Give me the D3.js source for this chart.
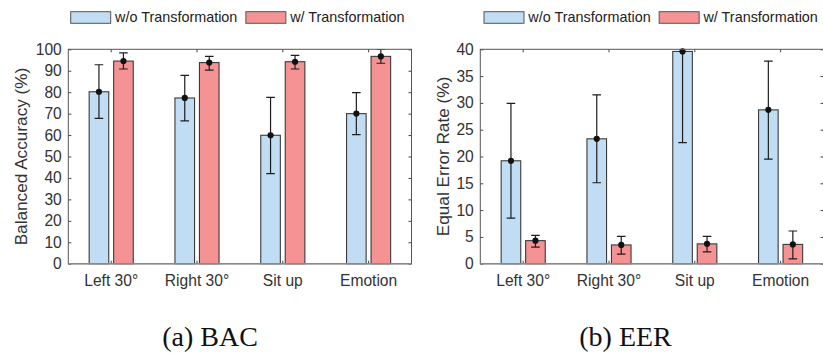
<!DOCTYPE html>
<html>
<head>
<meta charset="utf-8">
<script src="https://cdn.jsdelivr.net/npm/d3@7"></script>
<style>
  html, body { margin: 0; padding: 0; background: #fff; }
  svg { display: block; }
  .tick text { font-family: "Liberation Sans", Arial, sans-serif; fill: #333; }
</style>
</head>
<body>
<svg id="fig" width="823" height="353"></svg>
<script>
// Conditions on the x axis and the two compared settings
const categories = ["Left 30°", "Right 30°", "Sit up", "Emotion"];
const seriesNames = ["w/o Transformation", "w/ Transformation"];

// Balanced accuracy (%): mean, lower and upper whisker ends
const bacWithout     = [80.2, 77.3, 59.9, 70.0];
const bacWithoutLow  = [67.8, 66.6, 42.0, 60.2];
const bacWithoutHigh = [92.8, 87.8, 77.6, 79.8];
const bacWith        = [94.5, 93.8, 94.2, 96.7];
const bacWithLow     = [90.8, 90.3, 90.8, 93.5];
const bacWithHigh    = [98.3, 96.7, 97.2, 99.9];
const bacTicks = [0, 10, 20, 30, 40, 50, 60, 70, 80, 90, 100];

// Equal error rate (%): mean, lower and upper whisker ends
const eerWithout     = [19.2, 23.3, 39.6, 28.7];
const eerWithoutLow  = [8.5, 15.1, 22.6, 19.5];
const eerWithoutHigh = [29.9, 31.5, 56.6, 37.8];
const eerWith        = [4.3, 3.5, 3.7, 3.6];
const eerWithLow     = [3.1, 1.8, 2.2, 0.9];
const eerWithHigh    = [5.3, 5.1, 5.1, 6.1];
const eerTicks = [0, 5, 10, 15, 20, 25, 30, 35, 40];

const colors = ["#c0ddf3", "#f59394"];

const svg = d3.select("#fig");
const plotTop = 49.3, plotBottom = 263.7;

function drawPanel(cfg) {
  const g = svg.append("g");
  const x = d3.scaleBand().domain(categories).range([cfg.x0, cfg.x1]).padding(0);
  const step = x.step();
  const xs = d3.scaleBand().domain(seriesNames)
    .range([-0.2855 * step, 0.2855 * step])
    .paddingInner(0.2).paddingOuter(0.1);
  const y = d3.scaleLinear().domain([cfg.ticks[0], cfg.ticks[cfg.ticks.length - 1]]).range([plotBottom, plotTop]);
  const cx = c => x(c) + step / 2;

  const clipId = "clip-" + cfg.id;
  g.append("clipPath").attr("id", clipId).append("rect")
    .attr("x", cfg.x0).attr("y", plotTop).attr("width", cfg.x1 - cfg.x0).attr("height", plotBottom - plotTop);

  const rows = [];
  cfg.series.forEach((s, si) => {
    categories.forEach((c, ci) => {
      rows.push({ c, si, v: s.values[ci], lo: s.low[ci], hi: s.high[ci] });
    });
  });

  // bars
  g.append("g").selectAll("rect").data(rows).join("rect")
    .attr("x", d => cx(d.c) + xs(seriesNames[d.si]))
    .attr("y", d => y(d.v))
    .attr("width", xs.bandwidth())
    .attr("height", d => plotBottom - y(d.v))
    .attr("fill", d => colors[d.si])
    .attr("stroke", "#3a3a3a")
    .attr("stroke-width", 1.1);

  // error bars
  const eb = g.append("g").attr("clip-path", `url(#${clipId})`)
    .attr("stroke", "#1e1e1e").attr("stroke-width", 1.2).attr("fill", "none");
  const bx = d => cx(d.c) + xs(seriesNames[d.si]) + xs.bandwidth() / 2;
  const capW = 4.3;
  eb.selectAll("line.v").data(rows).join("line").attr("class", "v")
    .attr("x1", bx).attr("x2", bx).attr("y1", d => y(d.lo)).attr("y2", d => y(d.hi));
  eb.selectAll("line.lo").data(rows).join("line").attr("class", "lo")
    .attr("x1", d => bx(d) - capW).attr("x2", d => bx(d) + capW)
    .attr("y1", d => y(d.lo)).attr("y2", d => y(d.lo));
  eb.selectAll("line.hi").data(rows).join("line").attr("class", "hi")
    .attr("x1", d => bx(d) - capW).attr("x2", d => bx(d) + capW)
    .attr("y1", d => y(d.hi)).attr("y2", d => y(d.hi));
  g.append("g").selectAll("circle").data(rows).join("circle")
    .attr("cx", bx).attr("cy", d => y(d.v)).attr("r", 3.1).attr("fill", "#111");

  // axes with inward ticks
  const axL = g.append("g").attr("transform", `translate(${cfg.x0},0)`)
    .call(d3.axisLeft(y).tickValues(cfg.ticks).tickSize(-3).tickPadding(6.5));
  axL.selectAll("text").style("font-size", "15.6px");
  g.append("g").attr("transform", `translate(${cfg.x1},0)`)
    .call(d3.axisRight(y).tickValues(cfg.ticks).tickSize(-3).tickFormat(""));
  const axB = g.append("g").attr("transform", `translate(0,${plotBottom})`)
    .call(d3.axisBottom(x).tickSize(-3).tickPadding(11.5).tickFormat(d => d));
  axB.selectAll("text").style("font-size", "15.6px");
  axB.selectAll(".tick").attr("transform", d => `translate(${cx(d)},0)`);
  const axT = g.append("g").attr("transform", `translate(0,${plotTop})`)
    .call(d3.axisTop(x).tickSize(-3).tickFormat(""));
  axT.selectAll(".tick").attr("transform", d => `translate(${cx(d)},0)`);
  g.selectAll(".domain").remove();
  g.selectAll(".tick line").attr("stroke", "#444").attr("stroke-width", 1);

  // plot box
  g.append("rect").attr("x", cfg.x0).attr("y", plotTop)
    .attr("width", cfg.x1 - cfg.x0).attr("height", plotBottom - plotTop)
    .attr("fill", "none").attr("stroke", "#555").attr("stroke-width", 1);
  g.append("line").attr("x1", cfg.x0).attr("x2", cfg.x1).attr("y1", plotBottom).attr("y2", plotBottom)
    .attr("stroke", "#8a8a8a").attr("stroke-width", 1.6);

  // y label
  g.append("text")
    .attr("transform", `translate(${cfg.labelX},${(plotTop + plotBottom) / 2}) rotate(-90)`)
    .attr("text-anchor", "middle")
    .style("font-family", "'Liberation Sans', Arial, sans-serif")
    .style("font-size", "17.2px").attr("fill", "#333")
    .text(cfg.yLabel);

  // legend
  const lg = g.append("g").attr("transform", `translate(${cfg.legendX},11.7)`);
  let lx = 0;
  seriesNames.forEach((name, i) => {
    lg.append("rect").attr("x", lx).attr("y", 0).attr("width", 40).attr("height", 11.6)
      .attr("fill", colors[i]).attr("stroke", "#555").attr("stroke-width", 1);
    const t = lg.append("text").attr("x", lx + 44.3).attr("y", 10.6)
      .style("font-family", "'Liberation Sans', Arial, sans-serif")
      .style("font-size", "14.4px").attr("fill", "#222").text(name);
    lx += 44.3 + t.node().getComputedTextLength() + 8.5;
  });

  // caption
  svg.append("text").attr("x", cfg.captionX).attr("y", 345.5)
    .attr("text-anchor", "middle")
    .style("font-family", "'Liberation Serif', 'Times New Roman', serif")
    .style("font-size", "28px").attr("fill", "#111")
    .text(cfg.caption);
}

drawPanel({
  id: "bac", x0: 68.3, x1: 411.5, ticks: bacTicks,
  yLabel: "Balanced Accuracy (%)", labelX: 27, legendX: 70.7,
  caption: "(a) BAC", captionX: 210,
  series: [
    { values: bacWithout, low: bacWithoutLow, high: bacWithoutHigh },
    { values: bacWith, low: bacWithLow, high: bacWithHigh }
  ]
});

drawPanel({
  id: "eer", x0: 480.3, x1: 823.5, ticks: eerTicks,
  yLabel: "Equal Error Rate (%)", labelX: 449, legendX: 484,
  caption: "(b) EER", captionX: 625.5,
  series: [
    { values: eerWithout, low: eerWithoutLow, high: eerWithoutHigh },
    { values: eerWith, low: eerWithLow, high: eerWithHigh }
  ]
});
</script>
</body>
</html>
